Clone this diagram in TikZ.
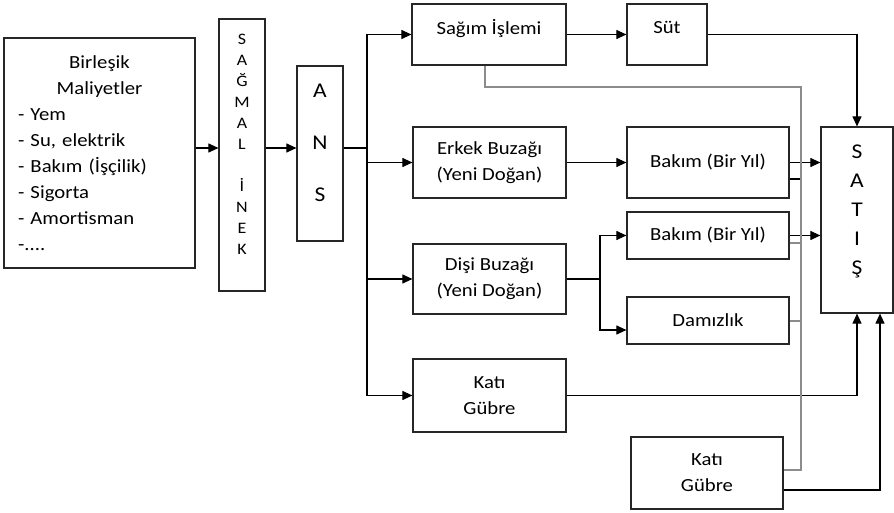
\documentclass[tikz,border=0pt]{standalone}
\usepackage{fontspec}
\setmainfont{Carlito}[FakeStretch=1.12]
\usetikzlibrary{arrows.meta}

\begin{document}
\begin{tikzpicture}[x=1pt,y=-1pt,
  box/.style={draw=black!85,line width=1.2pt,inner sep=0pt,align=center,
    font=\fontsize{18.5}{26}\selectfont},
  arr/.style={line width=1.1pt,-{Triangle[length=10pt,width=9pt]}},
  conn/.style={line width=1.1pt},
  gline/.style={line width=1.1pt,black!45}]
  \useasboundingbox (0,0) rectangle (894,513);
  % boxes
  \node[box,minimum width=191pt,minimum height=230pt,text width=163pt,align=left]
    (cost) at (99.5,153) {{\centering Birleşik\\Maliyetler\par}- Yem\\- Su, elektrik\\- Bakım (İşçilik)\\- Sigorta\\- Amortisman\\-....};
  \node[box,minimum width=46pt,minimum height=272pt,font=\fontsize{16}{21}\selectfont]
    (sag) at (242,155) {S\\A\\Ğ\\M\\A\\L\\~\\İ\\N\\E\\K\\~};
  \node[box,minimum width=46pt,minimum height=175pt,font=\fontsize{21}{22}\selectfont]
    (ans) at (320,153.5) {A\\[30pt]N\\[30pt]S\\~};
  \node[box,minimum width=154pt,minimum height=61pt] (sagim) at (489,34.5) {Sağım İşlemi\\[-11pt]~};
  \node[box,minimum width=80pt,minimum height=61pt] (sut) at (667,34.5) {Süt\\[-11pt]~};
  \node[box,minimum width=153pt,minimum height=71pt] (erkek) at (489.5,162.5) {Erkek Buzağı\\(Yeni Doğan)};
  \node[box,minimum width=162pt,minimum height=71pt] (bakim1) at (708,162.5) {Bakım (Bir Yıl)};
  \node[box,minimum width=153pt,minimum height=70pt] (disi) at (489.5,279) {Dişi Buzağı\\(Yeni Doğan)};
  \node[box,minimum width=162pt,minimum height=47pt] (bakim2) at (708,235.5) {Bakım (Bir Yıl)};
  \node[box,minimum width=162pt,minimum height=47pt] (damiz) at (708,320.5) {Damızlık};
  \node[box,minimum width=153pt,minimum height=73pt] (kati) at (489.5,395.5) {Katı\\Gübre};
  \node[box,minimum width=152pt,minimum height=72pt] (kati2) at (707,473) {Katı\\Gübre};
  \node[box,minimum width=72pt,minimum height=186pt,font=\fontsize{21}{29}\selectfont]
    (satis) at (857,220) {S\\A\\T\\I\\Ş\\[-8pt]~};
  % helper points
  \coordinate (row) at (0,148);
  \coordinate (bus) at (367,0);
  \coordinate (split) at (600,0);
  \coordinate (gtop) at (801,87);
  \coordinate (gbot) at (801,470);
  \coordinate (s1) at (801,179);
  \coordinate (s2) at (801,243);
  \coordinate (s3) at (801,321);
  \coordinate (d1) at (0,330);
  \coordinate (k2) at (880,490);
  % connectors
  \draw[arr] (row -| cost.east) -- (row -| sag.west);
  \draw[arr] (row -| sag.east) -- (row -| ans.west);
  \draw[conn] (row -| ans.east) -- (row -| bus);
  \draw[conn] (bus |- sagim) -- (bus |- kati);
  \foreach \n in {sagim,erkek,disi,kati}
    \draw[arr] (bus |- \n) -- (\n.west);
  \draw[arr] (sagim) -- (sut);
  \draw[arr] (sut) -| (satis);
  \draw[arr] (erkek) -- (bakim1);
  \draw[arr] (bakim1) -- (bakim1 -| satis.west);
  \draw[arr] (disi) -- (disi -| split) |- (bakim2);
  \draw[arr] (disi -| split) |- (d1 -| damiz.west);
  \draw[arr] (bakim2) -- (bakim2 -| satis.west);
  \draw[arr] (kati) -| (satis.south);
  \draw[arr] (kati2.east |- k2) -| (k2 |- satis.south);
  \draw[conn] (s1 -| bakim1.east) -- (s1);
  \draw[gline] (s2 -| bakim2.east) -- (s2);
  \draw[gline] (s3 -| damiz.east) -- (s3);
  \draw[gline] ([xshift=-4pt]sagim.south) |- (gtop) -- (gbot) -- (gbot -| kati2.east);
\end{tikzpicture}
\end{document}
